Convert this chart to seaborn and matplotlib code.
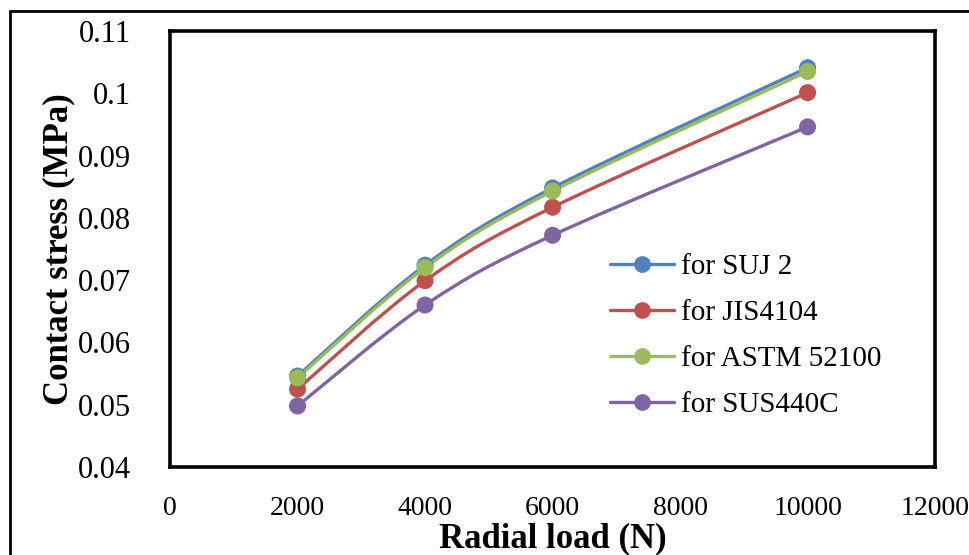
import numpy as np
import pandas as pd
import matplotlib
matplotlib.use("Agg")
import matplotlib.pyplot as plt
import seaborn as sns
from matplotlib.path import Path
from matplotlib.patches import PathPatch
from matplotlib.lines import Line2D
from matplotlib.ticker import FuncFormatter

# data
radial_load = [2000, 4000, 6000, 10000]
suj2 = [0.0546, 0.0724, 0.0848, 0.1041]
jis4104 = [0.0525, 0.0699, 0.0817, 0.1001]
astm52100 = [0.0543, 0.0720, 0.0843, 0.1035]
sus440c = [0.0498, 0.0660, 0.0772, 0.0946]

labels = ["for SUJ 2", "for JIS4104", "for ASTM 52100", "for SUS440C"]
colors = ["#4F81BD", "#C0504D", "#9BBB59", "#8064A2"]
series = [suj2, jis4104, astm52100, sus440c]

rows = []
for lab, vals in zip(labels, series):
    for x, y in zip(radial_load, vals):
        rows.append({"load": x, "stress": y, "material": lab})
df = pd.DataFrame(rows)

sns.set_theme(style="white")
plt.rcParams["font.family"] = ["Liberation Serif", "DejaVu Serif"]
plt.rcParams["text.color"] = "black"
plt.rcParams["axes.labelcolor"] = "black"
plt.rcParams["xtick.color"] = "black"
plt.rcParams["ytick.color"] = "black"


def smooth_path(xs, ys):
    # Excel-like smoothed line: Catmull-Rom segments as cubic Beziers
    pts = np.column_stack([xs, ys]).astype(float)
    p = np.vstack([pts[0], pts, pts[-1]])
    verts = [pts[0]]
    codes = [Path.MOVETO]
    for i in range(1, len(p) - 2):
        c1 = p[i] + (p[i + 1] - p[i - 1]) / 6
        c2 = p[i + 1] - (p[i + 2] - p[i]) / 6
        verts += [c1, c2, p[i + 1]]
        codes += [Path.CURVE4] * 3
    return Path(verts, codes)


fig = plt.figure(figsize=(9.7, 5.55), dpi=100)
ax = fig.add_axes([0.1753, 0.1586, 0.7887, 0.7856])

for lab, vals, col in zip(labels, series, colors):
    ax.add_patch(PathPatch(smooth_path(radial_load, vals), facecolor="none",
                           edgecolor=col, lw=2.4, zorder=2))

sns.scatterplot(data=df, x="load", y="stress", hue="material",
                palette=dict(zip(labels, colors)), s=150, linewidth=0,
                legend=False, ax=ax, zorder=3)

ax.set_xlim(0, 12000)
ax.set_ylim(0.04, 0.11)
ax.set_xticks(np.arange(0, 12001, 2000))
ax.set_yticks(np.arange(0.04, 0.1101, 0.01))
ax.yaxis.set_major_formatter(FuncFormatter(lambda v, p: f"{v:.2f}".rstrip("0")))
ax.tick_params(axis="x", length=0, pad=21, labelsize=20)
ax.tick_params(axis="y", length=0, pad=28, labelsize=22)
for s in ax.spines.values():
    s.set_color("black")
    s.set_linewidth(2.6)

ax.set_xlabel("Radial load (N)", fontsize=25, fontweight="bold", labelpad=1)
ax.set_ylabel("Contact stress (MPa)", fontsize=25, fontweight="bold", labelpad=2)

handles = [Line2D([0], [0], color=c, lw=2.4, marker="o", markersize=11)
           for c in colors]
ax.legend(handles, labels, loc="upper left", bbox_to_anchor=(0.575, 0.49),
          frameon=False, fontsize=21, handlelength=2.2, handletextpad=0.22,
          labelspacing=0.68, borderpad=0, borderaxespad=0)

# outer chart frame (cropped on the right and bottom)
fig.add_artist(Line2D([10 / 970, 10 / 970], [0, 1 - 11 / 555],
                      transform=fig.transFigure, color="black", lw=2))
fig.add_artist(Line2D([10 / 970, 1], [1 - 11 / 555, 1 - 11 / 555],
                      transform=fig.transFigure, color="black", lw=2))

fig.savefig("out.png", dpi=100)
